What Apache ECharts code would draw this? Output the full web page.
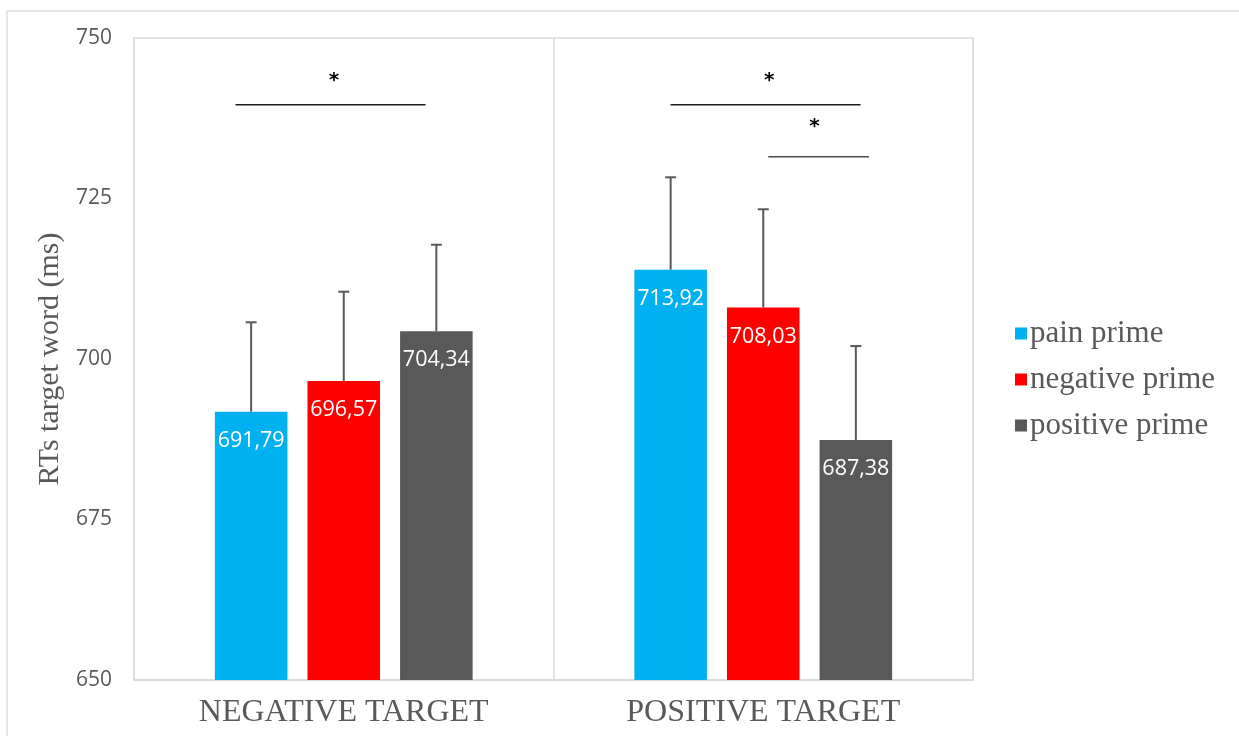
<!DOCTYPE html>
<html>
<head>
<meta charset="utf-8">
<script src="https://cdn.jsdelivr.net/npm/echarts@6/dist/echarts.min.js"></script>
<style>
  html, body { margin: 0; padding: 0; background: #ffffff; }
  #chart { width: 1239px; height: 736px; }
</style>
</head>
<body>
<div id="chart"></div>
<script>
// Reaction times to the target word, by target valence and prime type
const categories = ['NEGATIVE TARGET', 'POSITIVE TARGET'];
const seriesNames = ['pain prime', 'negative prime', 'positive prime'];
const painPrime = [691.79, 713.92];
const negativePrime = [696.57, 708.03];
const positivePrime = [704.34, 687.38];
// upper error bar lengths (ms)
const painErr = [13.93, 14.38];
const negativeErr = [13.91, 15.29];
const positiveErr = [13.46, 14.64];
const yTicks = { min: 650, max: 750, step: 25 };
// significance brackets: category, start/end offset within the category band, level (ms), star offset, star level
const brackets = [
  { cat: 0, from: -0.258, to: 0.195, level: 739.6, star: -0.023, starLevel: 743.4, dark: true },
  { cat: 1, from: -0.221, to: 0.232, level: 739.6, star: 0.014, starLevel: 743.4, dark: true },
  { cat: 1, from: 0.012, to: 0.252, level: 731.5, star: 0.122, starLevel: 736.1, dark: false }
];

const colors = ['#00B0F0', '#FF0000', '#595959'];
const valueSets = [painPrime, negativePrime, positivePrime];
const errSets = [painErr, negativeErr, positiveErr];
const BAR_W = 0.173;   // bar width as a share of the category band
const BAR_GAP = 0.276; // gap as a share of the bar width

const fmt = v => v.toFixed(2).replace('.', ',');

const barSeries = seriesNames.map((name, k) => ({
  name: name,
  type: 'bar',
  data: valueSets[k],
  barWidth: (BAR_W * 100) + '%',
  barGap: (BAR_GAP * 100) + '%',
  itemStyle: { color: colors[k] },
  label: {
    show: true,
    position: 'insideTop',
    distance: 18,
    color: '#ffffff',
    fontFamily: 'Open Sans',
    fontSize: 21.5,
    formatter: p => fmt(p.value)
  },
  z: 2
}));

// error bar data: [category index, value, error, series index]
const errData = [];
valueSets.forEach((vals, k) => {
  vals.forEach((v, i) => errData.push([i, v, errSets[k][i], k]));
});

const errorSeries = {
  type: 'custom',
  name: 'err',
  data: errData,
  encode: { x: 0, y: 1 },
  z: 5,
  silent: true,
  renderItem: function (params, api) {
    const cat = api.value(0);
    const v = api.value(1);
    const e = api.value(2);
    const k = api.value(3);
    const band = api.size([1, 0])[0];
    const bw = band * BAR_W;
    const off = (k - 1) * (bw * (1 + BAR_GAP));
    const base = api.coord([cat, v]);
    const top = api.coord([cat, v + e]);
    const x = base[0] + off;
    const cap = 5.5;
    const style = { stroke: '#595959', lineWidth: 2 };
    return {
      type: 'group',
      children: [
        { type: 'line', shape: { x1: x, y1: base[1], x2: x, y2: top[1] }, style: style },
        { type: 'line', shape: { x1: x - cap, y1: top[1], x2: x + cap, y2: top[1] }, style: style }
      ]
    };
  }
};

const bracketSeries = {
  type: 'custom',
  name: 'sig',
  data: brackets.map(b => [b.cat, b.level, b.from, b.to, b.star, b.starLevel, b.dark ? 1 : 0]),
  encode: { x: 0, y: 1 },
  z: 6,
  silent: true,
  renderItem: function (params, api) {
    const cat = api.value(0);
    const band = api.size([1, 0])[0];
    const c = api.coord([cat, api.value(1)]);
    const s = api.coord([cat, api.value(5)]);
    const dark = api.value(6) === 1;
    return {
      type: 'group',
      children: [
        {
          type: 'line',
          shape: { x1: c[0] + api.value(2) * band, y1: c[1], x2: c[0] + api.value(3) * band, y2: c[1] },
          style: { stroke: dark ? '#1a1a1a' : '#4a4a4a', lineWidth: 1.5 }
        },
        {
          type: 'text',
          x: s[0] + api.value(4) * band,
          y: s[1],
          style: {
            text: '*',
            fill: '#000000',
            font: 'bold 20px "DejaVu Sans"',
            align: 'center',
            verticalAlign: 'middle'
          }
        }
      ]
    };
  }
};

const chart = echarts.init(document.getElementById('chart'));
chart.setOption({
  animation: false,
  backgroundColor: '#ffffff',
  color: colors,
  graphic: [{
    type: 'rect',
    shape: { x: 7, y: 11, width: 1300, height: 800 },
    style: { fill: 'none', stroke: '#dcdcdc', lineWidth: 1.5 },
    silent: true,
    z: -10
  }],
  grid: {
    left: 134, right: 266, top: 38, bottom: 56,
    show: true,
    borderColor: '#d9d9d9',
    borderWidth: 1.5,
    containLabel: false
  },
  legend: {
    data: seriesNames,
    orient: 'vertical',
    left: 1010,
    top: 313,
    icon: 'rect',
    itemWidth: 12,
    itemHeight: 12,
    itemGap: 15,
    textStyle: {
      fontFamily: 'Liberation Serif',
      fontSize: 31,
      color: '#595959',
      padding: [0, 0, 0, -2]
    }
  },
  xAxis: {
    type: 'category',
    data: categories,
    axisTick: { show: false },
    axisLine: { show: true, lineStyle: { color: '#d9d9d9', width: 1.5 } },
    splitLine: { show: true, lineStyle: { color: '#d9d9d9', width: 1.5 } },
    axisLabel: {
      fontFamily: 'Liberation Serif',
      fontSize: 32,
      color: '#595959',
      margin: 17
    }
  },
  yAxis: {
    type: 'value',
    min: yTicks.min,
    max: yTicks.max,
    interval: yTicks.step,
    name: 'RTs target word (ms)',
    nameLocation: 'middle',
    nameGap: 60,
    nameRotate: 90,
    nameTextStyle: {
      fontFamily: 'Liberation Serif',
      fontSize: 30,
      color: '#595959'
    },
    axisLine: { show: false },
    axisTick: { show: false },
    splitLine: { show: false },
    axisLabel: {
      fontFamily: 'Open Sans',
      fontSize: 21,
      color: '#595959',
      margin: 22
    }
  },
  series: barSeries.concat([errorSeries, bracketSeries])
});
</script>
</body>
</html>
